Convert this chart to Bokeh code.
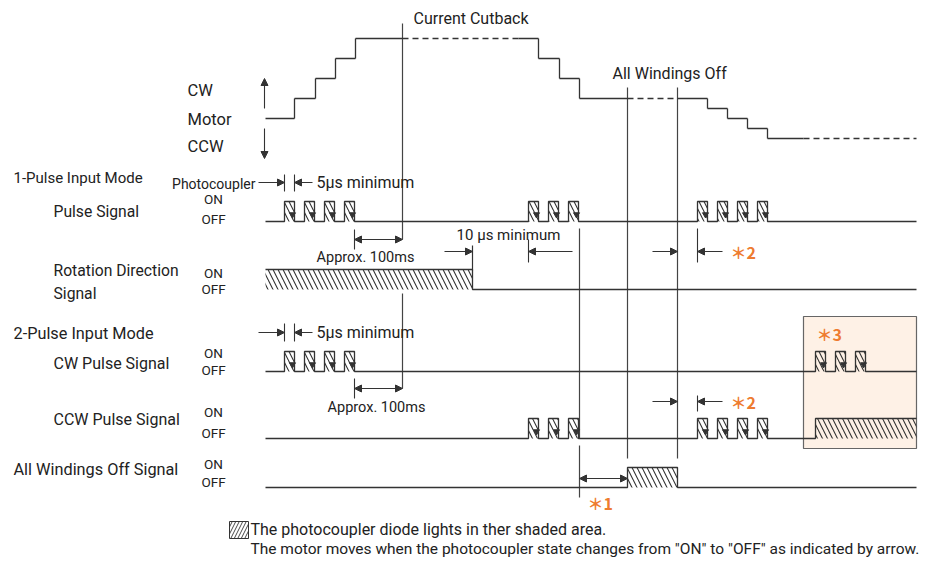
from bokeh.plotting import figure
from bokeh.models import Range1d, Arrow, NormalHead
from bokeh.embed import file_html
from bokeh.resources import INLINE
from bokeh.core.properties import value

FONT = "Roboto"
CJK = "Noto Sans CJK JP"
INK = "#333333"
GRID = "#444444"
ORANGE = "#EE7B30"

# ---------------- data ----------------
T_START, T_END = 265, 916
PULSE_W = 10
ON_H = 20

MOTOR_EDGES = [265, 294, 315, 335, 355, 538, 559, 579, 707, 727, 747, 767, 916]
MOTOR_SPEED = [0, 1, 2, 3, 4, 3, 2, 1, 0.5, 0, -0.5, -1]
MOTOR_DASHED = [(402, 518), (627, 677), (803, 916)]
MOTOR_ZERO, MOTOR_UNIT = 118, 20

ROW_BASE = {"pulse": 221, "dir": 289, "cw": 371, "ccw": 438, "awo": 487}

PULSES_A = [284, 304, 324, 344]
PULSES_B = [528, 548, 568]
PULSES_C = [697, 717, 737, 757]
PULSES_BOX = [815, 835, 855]
DIR_ON = [(265, 472)]
CCW_HOLD = [(815, 916)]
AWO_ON = [(627, 677)]

EVENT_LINES = [(402, 23, 239), (402, 293, 388), (579, 228, 438), (579, 445, 497),
               (627, 87, 458), (677, 87, 458)]

BOX = (803, 916, 316, 448)

LABELS = [
    ("CW", 187, 90, "16.5px"), ("Motor", 187, 119, "16.5px"), ("CCW", 187, 146, "16.5px"),
    ("1-Pulse Input Mode", 13, 177, "15px"), ("Pulse Signal", 53, 211, "15.7px"),
    ("Rotation Direction", 53, 270, "15.7px"), ("Signal", 53, 293, "15.7px"),
    ("2-Pulse Input Mode", 13, 333, "16.3px"), ("CW Pulse Signal", 53, 363, "16px"),
    ("CCW Pulse Signal", 53, 419, "16px"), ("All Windings Off Signal", 13, 469, "16.3px"),
]
ONOFF = [(198, 218), (272, 288), (352, 369), (411, 432), (463, 481)]
ONOFF_X = 213

# ---------------- figure ----------------
p = figure(width=932, height=564, x_range=Range1d(0, 932), y_range=Range1d(564, 0),
           output_backend="svg", toolbar_location=None, min_border=0)
p.axis.visible = False
p.grid.visible = False
p.outline_line_color = None

# highlight box
p.quad(left=[BOX[0]], right=[BOX[1]], top=[BOX[2]], bottom=[BOX[3]],
       fill_color="#FEF1E6", line_color="#666666", line_width=1.2)

# event lines
p.segment(x0=[e[0] for e in EVENT_LINES], x1=[e[0] for e in EVENT_LINES],
          y0=[e[1] for e in EVENT_LINES], y1=[e[2] for e in EVENT_LINES],
          line_color=GRID, line_width=1.2)

# motor profile
def my(s):
    return MOTOR_ZERO - MOTOR_UNIT * s

def split(a, b):
    pieces = []
    cur = a
    for d0, d1 in MOTOR_DASHED:
        if d1 <= cur or d0 >= b:
            continue
        if d0 > cur:
            pieces.append((cur, d0, False))
        pieces.append((max(cur, d0), min(b, d1), True))
        cur = min(b, d1)
    if cur < b:
        pieces.append((cur, b, False))
    return pieces

sx0, sx1, sy = [], [], []
dx0, dx1, dy = [], [], []
vx, vy0, vy1 = [], [], []
for i, s in enumerate(MOTOR_SPEED):
    a, b = MOTOR_EDGES[i], MOTOR_EDGES[i + 1]
    for u, v, dashed in split(a, b):
        if dashed:
            dx0.append(u); dx1.append(v); dy.append(my(s))
        else:
            sx0.append(u); sx1.append(v); sy.append(my(s))
    if i + 1 < len(MOTOR_SPEED):
        vx.append(b); vy0.append(my(s)); vy1.append(my(MOTOR_SPEED[i + 1]))
p.segment(x0=sx0, x1=sx1, y0=sy, y1=sy, line_color=INK, line_width=1.3)
p.segment(x0=dx0, x1=dx1, y0=dy, y1=dy, line_color=INK, line_width=1.3, line_dash="6 4")
p.segment(x0=vx, x1=vx, y0=vy0, y1=vy1, line_color=INK, line_width=1.3)

# signals
def wave(base, highs):
    top = base - ON_H
    xs, ys = [T_START], [base]
    for a, b in sorted(highs):
        if a == T_START:
            ys[0] = top
        else:
            xs += [a, a]; ys += [base, top]
        if b == T_END:
            xs.append(b); ys.append(top)
            return xs, ys
        xs += [b, b]; ys += [top, base]
    xs.append(T_END); ys.append(base)
    return xs, ys

def pulses(starts):
    return [(t, t + PULSE_W) for t in starts]

SIGNALS = {
    "pulse": (pulses(PULSES_A + PULSES_B + PULSES_C), True),
    "dir": (DIR_ON, False),
    "cw": (pulses(PULSES_A + PULSES_BOX), True),
    "ccw": (pulses(PULSES_B + PULSES_C) + CCW_HOLD, True),
    "awo": (AWO_ON, False),
}

for key, (highs, arrows) in SIGNALS.items():
    base = ROW_BASE[key]
    xs, ys = wave(base, highs)
    p.quad(left=[h[0] for h in highs], right=[h[1] for h in highs],
           top=[base - ON_H] * len(highs), bottom=[base] * len(highs),
           fill_alpha=0, line_alpha=0, hatch_pattern="\\", hatch_scale=10,
           hatch_weight=1.1, hatch_color=INK)
    p.line(xs, ys, line_color=INK, line_width=1.3)
    if arrows:
        ax = [b - 2 for a, b in highs if b - a == PULSE_W]
        p.scatter(ax, [base - 7] * len(ax), marker="inverted_triangle", size=6,
                  fill_color=INK, line_color=INK)

# rotation direction edge tick (extends up)
p.segment(x0=[472], x1=[472], y0=[245], y1=[270], line_color=INK, line_width=1.2)

# dimension helpers
def head():
    return NormalHead(size=7, line_color=INK, fill_color=INK, line_width=1)

def arrow(x0, x1, y, both=False):
    p.add_layout(Arrow(end=head(), start=head() if both else None,
                       x_start=x0, y_start=y, x_end=x1, y_end=y,
                       line_color=INK, line_width=1.1))

TICKS = [(284, 174, 191), (294, 174, 191), (284, 323, 341), (294, 323, 341),
         (354, 229, 249), (354, 378, 398), (528, 239, 262), (697, 228, 262),
         (697, 395, 411)]
p.segment(x0=[t[0] for t in TICKS], x1=[t[0] for t in TICKS],
          y0=[t[1] for t in TICKS], y1=[t[2] for t in TICKS],
          line_color=INK, line_width=1.1)

for y in (182, 332):
    arrow(258, 284, y)
    arrow(312, 294, y)
arrow(354, 402, 239, both=True)
arrow(354, 402, 388, both=True)
arrow(444, 472, 251)
arrow(572, 528, 251)
arrow(652, 677, 251)
arrow(722, 697, 251)
arrow(652, 677, 401)
arrow(722, 697, 401)
arrow(579, 627, 478, both=True)
# motor direction arrows
p.add_layout(Arrow(end=head(), x_start=264, y_start=108, x_end=264, y_end=78,
                   line_color=INK, line_width=1.1))
p.add_layout(Arrow(end=head(), x_start=264, y_start=128, x_end=264, y_end=158,
                   line_color=INK, line_width=1.1))

# texts
def txt(s, x, y, size="16px", align="left", color="#222222", font=FONT, style="normal"):
    p.text(x=[x], y=[y], text=[s], text_font=value(font), text_font_size=size,
           text_align=align, text_baseline="middle", text_color=color,
           text_font_style=style)

for s, x, y, fs in LABELS:
    txt(s, x, y, size=fs)
for on_y, off_y in ONOFF:
    txt("ON", ONOFF_X, on_y, size="13.5px", align="center")
    txt("OFF", ONOFF_X, off_y, size="13.5px", align="center")
txt("Photocoupler", 255, 183, size="14px", align="right")
txt("Current Cutback", 413, 18, size="16px")
txt("All Windings Off", 612, 73, size="16px")
txt("5μs minimum", 316, 182, size="16px")
txt("5μs minimum", 316, 332, size="16px")
txt("Approx. 100ms", 365, 257, size="14.5px", align="center")
txt("Approx. 100ms", 376, 407, size="14.5px", align="center")
txt("10 μs minimum", 508, 234, size="15px", align="center")
txt("＊2", 730, 251, size="16px", color=ORANGE, font=CJK, style="bold")
txt("＊2", 730, 401, size="16px", color=ORANGE, font=CJK, style="bold")
txt("＊3", 816, 333, size="16px", color=ORANGE, font=CJK, style="bold")
txt("＊1", 587, 502, size="16px", color=ORANGE, font=CJK, style="bold")

# legend
p.quad(left=[229], right=[248], top=[521], bottom=[538], fill_color="white",
       line_color=INK, line_width=1, hatch_pattern="/", hatch_scale=7,
       hatch_weight=0.9, hatch_color=INK)
txt("The photocoupler diode lights in ther shaded area.", 250, 529, size="16px")
txt('The motor moves when the photocoupler state changes from "ON" to "OFF" as indicated by arrow.',
    250, 548, size="15.5px")

open("out.html", "w").write(file_html(p, INLINE))
